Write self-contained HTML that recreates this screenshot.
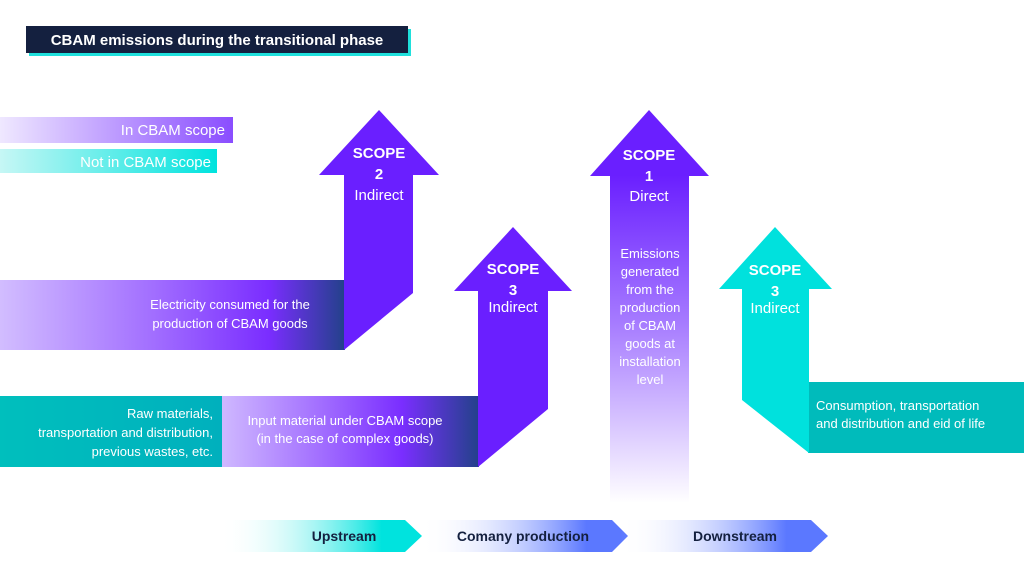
<!DOCTYPE html>
<html><head><meta charset="utf-8"><style>
html,body{margin:0;padding:0;background:#fff;width:1024px;height:576px;overflow:hidden}
svg{display:block}
text{font-family:"Liberation Sans",sans-serif}
</style></head><body>
<svg width="1024" height="576" viewBox="0 0 1024 576" xmlns="http://www.w3.org/2000/svg">
<defs>
<linearGradient id="lav" x1="0" x2="1" y1="0" y2="0"><stop offset="0" stop-color="#efe8ff"/><stop offset="1" stop-color="#8a4dff"/></linearGradient>
<linearGradient id="cy" x1="0" x2="1" y1="0" y2="0"><stop offset="0" stop-color="#c6f7f5"/><stop offset="1" stop-color="#00e3de"/></linearGradient>
<linearGradient id="bar1" x1="0" x2="1" y1="0" y2="0"><stop offset="0" stop-color="#d2bdff"/><stop offset="0.45" stop-color="#a16dff"/><stop offset="0.78" stop-color="#7a2dff"/><stop offset="1" stop-color="#23418a"/></linearGradient>
<linearGradient id="bar2" x1="0" x2="1" y1="0" y2="0"><stop offset="0" stop-color="#cfb8ff"/><stop offset="0.4" stop-color="#a06bff"/><stop offset="0.7" stop-color="#7a2eff"/><stop offset="1" stop-color="#23418a"/></linearGradient>
<linearGradient id="teal" x1="0" x2="1"><stop offset="0" stop-color="#00bfbd"/><stop offset="1" stop-color="#00b0bd"/></linearGradient>
<linearGradient id="s1" x1="0" x2="0" y1="0" y2="1"><stop offset="0" stop-color="#6a1fff"/><stop offset="0.45" stop-color="#a67bff"/><stop offset="1" stop-color="#ffffff"/></linearGradient>
<linearGradient id="cu" x1="0" x2="1"><stop offset="0" stop-color="#fff" stop-opacity="0"/><stop offset="0.8" stop-color="#00e3de"/><stop offset="1" stop-color="#00e3de"/></linearGradient>
<linearGradient id="bu" x1="0" x2="1"><stop offset="0" stop-color="#fff" stop-opacity="0"/><stop offset="0.8" stop-color="#5b78ff"/><stop offset="1" stop-color="#5b78ff"/></linearGradient>
</defs>

<!-- title -->
<rect x="29" y="29" width="382" height="27" fill="#1fe0dc"/>
<rect x="26" y="26" width="382" height="27" fill="#14203f"/>
<text x="217" y="45" fill="#fff" font-size="15" font-weight="bold" text-anchor="middle">CBAM emissions during the transitional phase</text>

<!-- legend -->
<rect x="0" y="117" width="233" height="26" fill="url(#lav)"/>
<text x="225" y="135" fill="#fff" font-size="15" text-anchor="end">In CBAM scope</text>
<rect x="0" y="149" width="217" height="24" fill="url(#cy)"/>
<text x="211" y="167" fill="#fff" font-size="15" text-anchor="end">Not in CBAM scope</text>

<!-- scope 2 -->
<rect x="0" y="280" width="345" height="70" fill="url(#bar1)"/>
<polygon points="379,110 439,175 413,175 413,293 344,350 344,175 319,175" fill="#6a1fff"/>
<text x="379" y="158" fill="#fff" font-size="15" font-weight="bold" text-anchor="middle">SCOPE</text>
<text x="379" y="179" fill="#fff" font-size="15" font-weight="bold" text-anchor="middle">2</text>
<text x="379" y="200" fill="#fff" font-size="15" text-anchor="middle">Indirect</text>
<text x="230" y="309" fill="#fff" font-size="13" text-anchor="middle">Electricity consumed for the</text>
<text x="230" y="328" fill="#fff" font-size="13" text-anchor="middle">production of CBAM goods</text>

<!-- scope 3 purple -->
<rect x="0" y="396" width="223" height="71" fill="url(#teal)"/>
<rect x="222" y="396" width="257" height="71" fill="url(#bar2)"/>
<polygon points="513,227 572,291 548,291 548,409 478,467 478,291 454,291" fill="#6a1fff"/>
<text x="513" y="274" fill="#fff" font-size="15" font-weight="bold" text-anchor="middle">SCOPE</text>
<text x="513" y="295" fill="#fff" font-size="15" font-weight="bold" text-anchor="middle">3</text>
<text x="513" y="312" fill="#fff" font-size="15" text-anchor="middle">Indirect</text>
<text x="213" y="418" fill="#fff" font-size="13" text-anchor="end">Raw materials,</text>
<text x="213" y="437" fill="#fff" font-size="13" text-anchor="end">transportation and distribution,</text>
<text x="213" y="456" fill="#fff" font-size="13" text-anchor="end">previous wastes, etc.</text>
<text x="345" y="425" fill="#fff" font-size="13" text-anchor="middle">Input material under CBAM scope</text>
<text x="345" y="443" fill="#fff" font-size="13" text-anchor="middle">(in the case of complex goods)</text>

<!-- scope 1 -->
<rect x="610" y="175" width="79" height="328" fill="url(#s1)"/>
<polygon points="649,110 709,176 590,176" fill="#6a1fff"/>
<text x="649" y="160" fill="#fff" font-size="15" font-weight="bold" text-anchor="middle">SCOPE</text>
<text x="649" y="181" fill="#fff" font-size="15" font-weight="bold" text-anchor="middle">1</text>
<text x="649" y="201" fill="#fff" font-size="15" text-anchor="middle">Direct</text>
<g fill="#fff" font-size="13" text-anchor="middle">
<text x="650" y="258">Emissions</text><text x="650" y="276">generated</text><text x="650" y="294">from the</text><text x="650" y="312">production</text><text x="650" y="330">of CBAM</text><text x="650" y="348">goods at</text><text x="650" y="366">installation</text><text x="650" y="384">level</text>
</g>

<!-- scope 3 cyan -->
<rect x="808" y="382" width="216" height="71" fill="#00bbbb"/>
<polygon points="775,227 832,289 809,289 809,453 742,400 742,289 719,289" fill="#00e1dd"/>
<text x="775" y="275" fill="#fff" font-size="15" font-weight="bold" text-anchor="middle">SCOPE</text>
<text x="775" y="296" fill="#fff" font-size="15" font-weight="bold" text-anchor="middle">3</text>
<text x="775" y="313" fill="#fff" font-size="15" text-anchor="middle">Indirect</text>
<text x="816" y="410" fill="#fff" font-size="13">Consumption, transportation</text>
<text x="816" y="428" fill="#fff" font-size="13">and distribution and eid of life</text>

<!-- bottom chevrons -->
<polygon points="220,520 405,520 422,536 405,552 220,552" fill="url(#cu)"/>
<polygon points="420,520 612,520 628,536 612,552 420,552" fill="url(#bu)"/>
<polygon points="620,520 811,520 828,536 811,552 620,552" fill="url(#bu)"/>
<g fill="#14203f" font-size="14" font-weight="bold" text-anchor="middle">
<text x="344" y="541">Upstream</text><text x="523" y="541">Comany production</text><text x="735" y="541">Downstream</text>
</g>
</svg>
</body></html>
